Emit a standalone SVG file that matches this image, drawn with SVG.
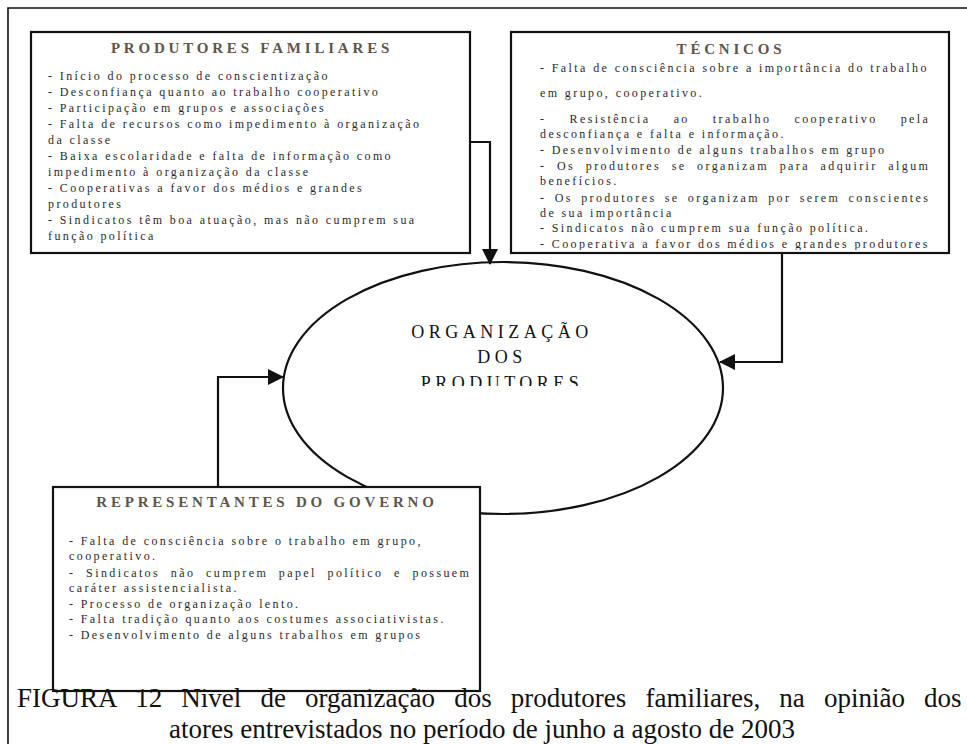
<svg xmlns="http://www.w3.org/2000/svg" width="967" height="744" viewBox="0 0 967 744">
  <style>
    .box { fill: #ffffff; stroke: #111111; stroke-width: 2.2; }
    .ttl { font-family: "Liberation Serif", "Times New Roman", serif; font-weight: bold; font-size: 15px; letter-spacing: 3.8px; fill: #5e554c; }
    .txt { font-family: "Liberation Serif", "Times New Roman", serif; font-size: 12px; letter-spacing: 2.4px; fill: #2a2a2a; }
    .ell { font-family: "Liberation Serif", "Times New Roman", serif; font-size: 18px; letter-spacing: 4.5px; fill: #111111; }
    .cap { font-family: "Liberation Serif", "Times New Roman", serif; font-size: 27px; fill: #111111; }
    .conn { fill: none; stroke: #111111; stroke-width: 2.2; }
  </style>
  <defs>
    <marker id="ah" viewBox="0 0 16 16" refX="15" refY="8" markerWidth="16" markerHeight="16" orient="auto" markerUnits="userSpaceOnUse">
      <path d="M0,0 L16,8 L0,16 z" fill="#111111"/>
    </marker>
    <clipPath id="clipTec"><rect x="512" y="33" width="436" height="217"/></clipPath>
    <clipPath id="clipOrg"><rect x="280" y="260" width="450" height="126"/></clipPath>
  </defs>

  <rect width="967" height="744" fill="#ffffff"/>

  <!-- page frame -->
  <g id="frame">
    <path d="M8,744 V8 H967" fill="none" stroke="#111111" stroke-width="1.6"/>
  </g>

  <!-- connectors -->
  <g id="connectors">
    <path class="conn" d="M470,142 H490 V264" marker-end="url(#ah)"/>
    <path class="conn" d="M782,253 V362 H720" marker-end="url(#ah)"/>
    <path class="conn" d="M218,487 V377 H283" marker-end="url(#ah)"/>
  </g>

  <!-- central ellipse -->
  <g id="organizacao">
    <ellipse cx="503" cy="388" rx="220" ry="126" fill="none" stroke="#111111" stroke-width="2.2"/>
    <g clip-path="url(#clipOrg)" text-anchor="middle">
      <text class="ell" x="502" y="338">ORGANIZAÇÃO</text>
      <text class="ell" x="502" y="363">DOS</text>
      <text class="ell" x="502" y="388.5">PRODUTORES</text>
    </g>
  </g>

  <!-- farmers box -->
  <g id="produtores-familiares">
    <rect class="box" x="31" y="32" width="439" height="221"/>
    <text class="ttl" x="252" y="53" text-anchor="middle">PRODUTORES FAMILIARES</text>
    <text class="txt" x="48" y="80">- Início do processo de conscientização</text>
    <text class="txt" x="48" y="96">- Desconfiança quanto ao trabalho cooperativo</text>
    <text class="txt" x="48" y="112">- Participação em grupos e associações</text>
    <text class="txt" x="48" y="128">- Falta de recursos como impedimento à organização</text>
    <text class="txt" x="48" y="144">da classe</text>
    <text class="txt" x="48" y="160">- Baixa escolaridade e falta de informação como</text>
    <text class="txt" x="48" y="176">impedimento à organização da classe</text>
    <text class="txt" x="48" y="192">- Cooperativas a favor dos médios e grandes</text>
    <text class="txt" x="48" y="208">produtores</text>
    <text class="txt" x="48" y="224">- Sindicatos têm boa atuação, mas não cumprem sua</text>
    <text class="txt" x="48" y="240">função política</text>
  </g>

  <!-- technicians box -->
  <g id="tecnicos">
    <rect class="box" x="511" y="32" width="438" height="221"/>
    <text class="ttl" x="731" y="54" text-anchor="middle">TÉCNICOS</text>
    <g clip-path="url(#clipTec)">
      <text class="txt" x="540" y="72">- Falta de consciência sobre a importância do trabalho</text>
      <text class="txt" x="540" y="97">em grupo, cooperativo.</text>
      <text class="txt" x="540" y="123" word-spacing="17.7">- Resistência ao trabalho cooperativo pela</text>
      <text class="txt" x="540" y="138">desconfiança e falta e informação.</text>
      <text class="txt" x="540" y="154">- Desenvolvimento de alguns trabalhos em grupo</text>
      <text class="txt" x="540" y="170" word-spacing="5.2">- Os produtores se organizam para adquirir algum</text>
      <text class="txt" x="540" y="185">benefícios.</text>
      <text class="txt" x="540" y="202" word-spacing="2.9">- Os produtores se organizam por serem conscientes</text>
      <text class="txt" x="540" y="217">de sua importância</text>
      <text class="txt" x="540" y="232">- Sindicatos não cumprem sua função política.</text>
      <text class="txt" x="540" y="248">- Cooperativa a favor dos médios e grandes produtores</text>
    </g>
  </g>

  <!-- government box -->
  <g id="representantes-governo">
    <rect class="box" x="53" y="487" width="427" height="204"/>
    <text class="ttl" x="267" y="507" text-anchor="middle">REPRESENTANTES DO GOVERNO</text>
    <text class="txt" x="69" y="545">- Falta de consciência sobre o trabalho em grupo,</text>
    <text class="txt" x="69" y="560">cooperativo.</text>
    <text class="txt" x="69" y="577" word-spacing="5.3">- Sindicatos não cumprem papel político e possuem</text>
    <text class="txt" x="69" y="592">caráter assistencialista.</text>
    <text class="txt" x="69" y="608">- Processo de organização lento.</text>
    <text class="txt" x="69" y="623">- Falta tradição quanto aos costumes associativistas.</text>
    <text class="txt" x="69" y="639">- Desenvolvimento de alguns trabalhos em grupos</text>
  </g>

  <!-- figure caption -->
  <g id="legenda">
    <text class="cap" x="17" y="707" word-spacing="12.4">FIGURA 12 Nivel de organização dos produtores familiares, na opinião dos</text>
    <text class="cap" x="482" y="738" text-anchor="middle">atores entrevistados no período de junho a agosto de 2003</text>
  </g>
</svg>
